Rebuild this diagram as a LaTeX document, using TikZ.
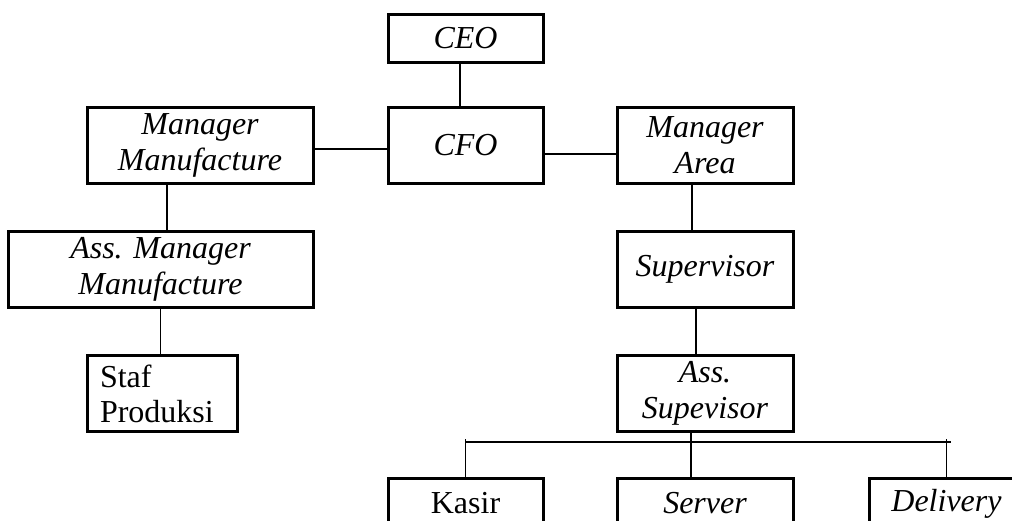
\documentclass[tikz,border=0pt]{standalone}
\usepackage{fontspec}
\setmainfont{Liberation Serif}
\usetikzlibrary{positioning}

\begin{document}
\begin{tikzpicture}[node distance=124pt,
            block/.style={rectangle, draw, line width=3pt, minimum height=76pt, inner sep=0pt, align=center, font=\fontsize{32}{36}\selectfont\itshape},
            plainblock/.style={block, font=\fontsize{32}{35}\selectfont},
            line/.style={line width=1.2pt}]

        \useasboundingbox (0,0) rectangle (1012pt,-520pt);

        \node[block, minimum width=155pt, minimum height=48pt] (ceo) at (465.5pt,-38pt) {CEO};
        \node[block, minimum width=155pt, below of=ceo, yshift=16.5pt] (cfo) {CFO};
        \node[block, minimum width=226pt, left of=cfo, xshift=-141.5pt] (mgrman) {Manager\\Manufacture};
        \node[block, minimum width=176pt, right of=cfo, xshift=115.5pt] (mgrarea) {Manager\\Area};
        \node[block, minimum width=305pt, below of=mgrman, xshift=-39.5pt] (assman) {Ass. Manager\\Manufacture};
        \node[block, minimum width=176pt, below of=mgrarea] (spv) {Supervisor};
        \node[plainblock, text width=124pt, inner xsep=13pt, align=left, below of=assman, xshift=1.5pt] (staf) {Staf\\Produksi};
        \node[block, minimum width=176pt, below of=spv] (assspv) {Ass.\\Supevisor};
        \node[block, minimum width=176pt, minimum height=50pt, below of=assspv, yshift=14pt] (server) {Server};
        \node[plainblock, minimum width=155pt, minimum height=50pt, left of=server, xshift=-115.5pt] (kasir) {Kasir};
        \node[block, minimum width=155pt, minimum height=50pt, right of=server, xshift=117.5pt] (delivery) {Delivery};

        \draw[line] ([xshift=-5.5pt]ceo.south) -- ([xshift=-5.5pt]cfo.north);
        \draw[line] ([yshift=-3.5pt]mgrman.east) -- ([yshift=-3.5pt]cfo.west);
        \draw[line] ([yshift=-8.5pt]cfo.east) -- ([yshift=-8.5pt]mgrarea.west);
        \draw[line] ([xshift=-33pt]mgrman.south) -- ([xshift=-33pt]mgrman.south |- assman.north);
        \draw[line] (assman.south) -- (assman.south |- staf.north);
        \draw[line] ([xshift=-13pt]mgrarea.south) -- ([xshift=-13pt]spv.north);
        \draw[line] ([xshift=-9pt]spv.south) -- ([xshift=-9pt]assspv.north);
        \draw[line] ([xshift=-14pt]assspv.south) -- ([xshift=-14pt]server.north);

        \coordinate (bus) at ([yshift=-9pt]assspv.south);
        \coordinate (busk) at (bus -| kasir.north);
        \coordinate (busd) at (bus -| delivery.north);
        \draw[line] (busk) -- ([xshift=4pt]busd);
        \draw[line] ([yshift=3pt]busk) -- (kasir.north);
        \draw[line] ([yshift=3pt]busd) -- (delivery.north);
    \end{tikzpicture}
\end{document}
